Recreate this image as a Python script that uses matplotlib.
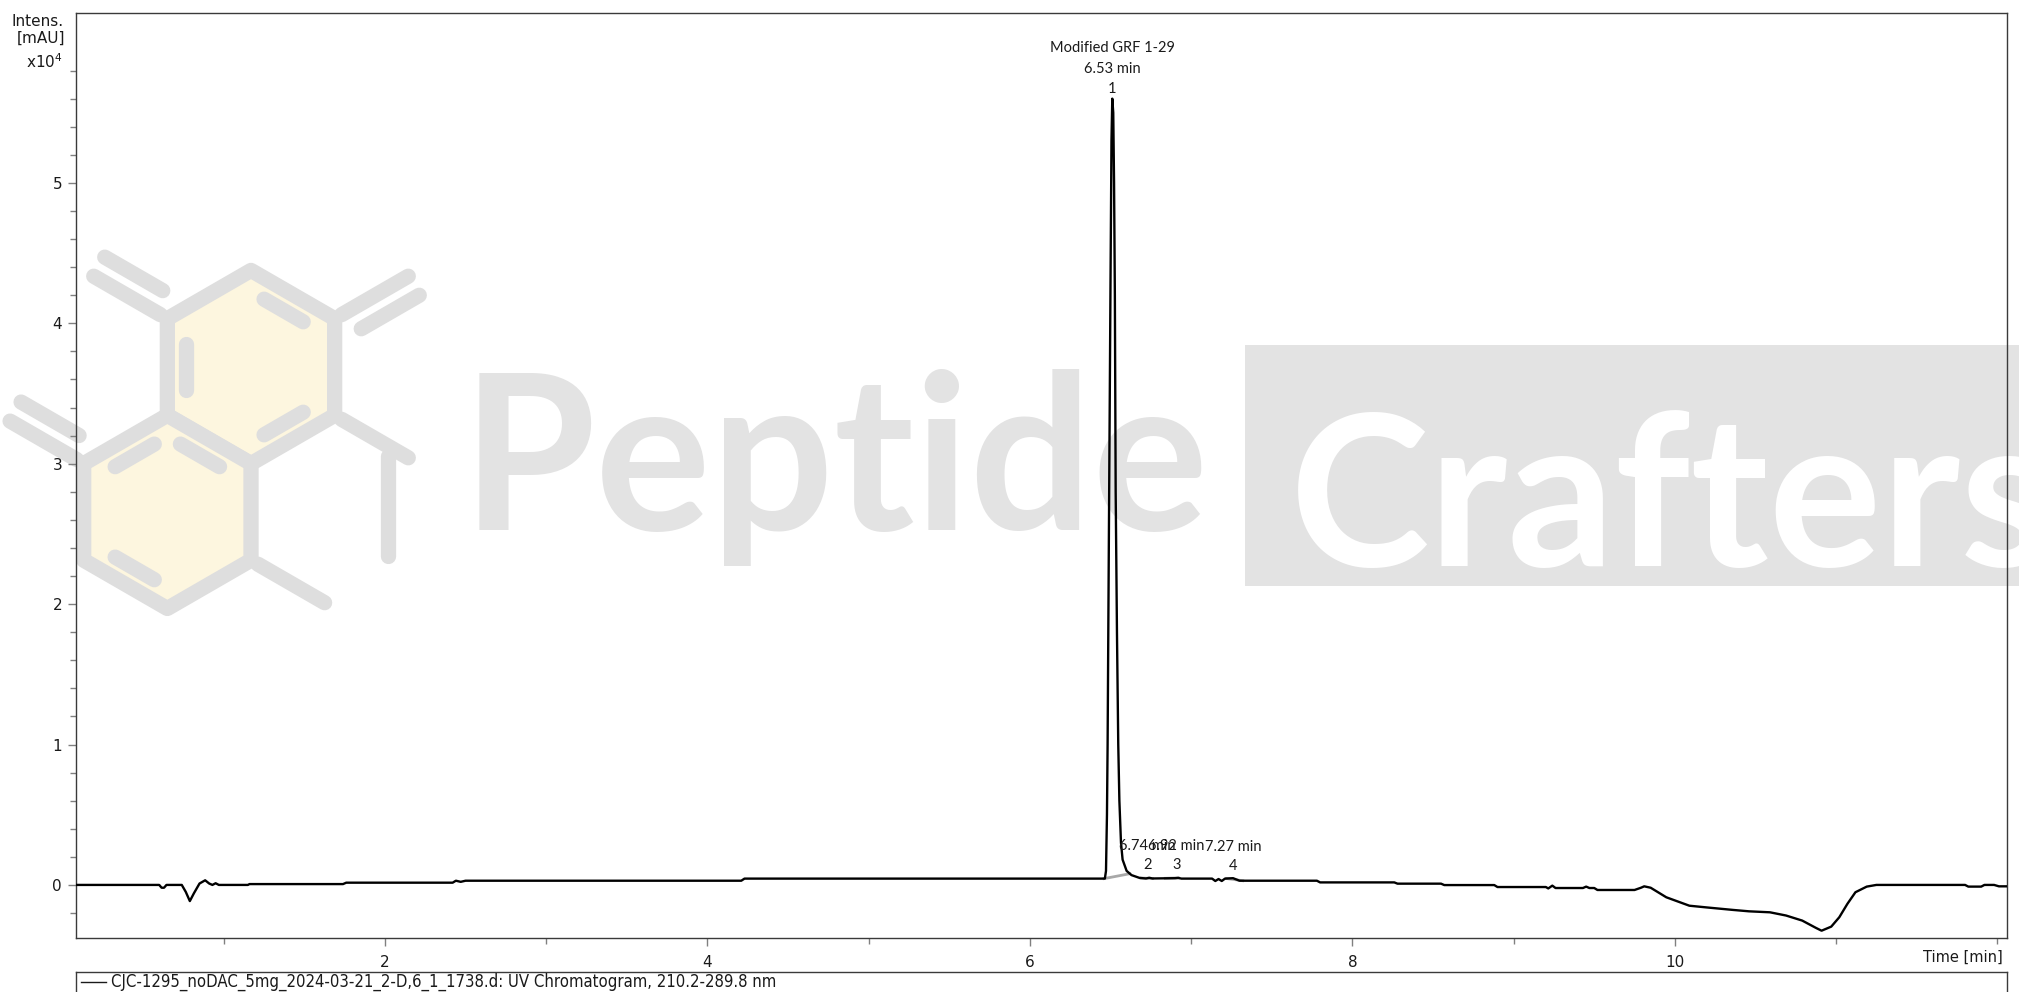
import numpy as np
import matplotlib
matplotlib.use("Agg")
import matplotlib.pyplot as plt
from matplotlib.lines import Line2D
from matplotlib.patches import Polygon, Rectangle

# ---------------- data ----------------
time_min = [0.084, 0.60, 0.615, 0.63, 0.645, 0.74, 0.765, 0.79, 0.815, 0.85, 0.885, 0.91, 0.93,
            0.95, 0.97, 1.15, 1.16, 1.74, 1.76, 2.42, 2.44, 2.47, 2.50, 4.21, 4.23, 4.25,
            6.465, 6.472, 6.478, 6.482, 6.49, 6.50, 6.506, 6.511, 6.517, 6.522, 6.527, 6.532,
            6.54, 6.548, 6.555, 6.565, 6.575, 6.60, 6.63, 6.68, 6.72, 6.74, 6.76, 6.90, 6.92,
            6.94, 7.13, 7.15, 7.17, 7.19, 7.21, 7.26, 7.30, 7.78, 7.80, 8.26, 8.28, 8.55, 8.57,
            8.88, 8.90, 9.20, 9.215, 9.24, 9.26, 9.28, 9.43, 9.45, 9.47, 9.50, 9.52, 9.75, 9.79,
            9.81, 9.85, 9.947, 10.09, 10.195, 10.36, 10.46, 10.59, 10.69, 10.79, 10.875, 10.91,
            10.97, 11.02, 11.07, 11.12, 11.19, 11.25, 11.80, 11.82, 11.90, 11.92, 11.98, 12.01,
            12.06]
intensity = [0.0, 0.0, -0.02, -0.02, 0.0, 0.0, -0.05, -0.115, -0.06, 0.01, 0.033, 0.01, 0.0,
             0.012, 0.0, 0.0, 0.006, 0.006, 0.016, 0.016, 0.03, 0.022, 0.03, 0.03, 0.045, 0.045,
             0.045, 0.10, 0.5, 1.0, 2.5, 4.3, 5.3, 5.6, 5.5, 5.0, 4.2, 2.8,
             1.8, 1.0, 0.6, 0.3, 0.18, 0.10, 0.07, 0.05, 0.046, 0.051, 0.046, 0.048, 0.05,
             0.045, 0.045, 0.028, 0.042, 0.028, 0.045, 0.048, 0.03, 0.03, 0.018, 0.018, 0.009, 0.009,
             -0.001, -0.001, -0.015, -0.015, -0.025, -0.005, -0.022, -0.022, -0.022, -0.012, -0.022, -0.022,
             -0.036, -0.036, -0.02, -0.01, -0.02, -0.088, -0.148, -0.16, -0.178, -0.188, -0.195, -0.218,
             -0.254, -0.306, -0.326, -0.297, -0.23, -0.135, -0.052, -0.012, 0.0, 0.0, -0.012, -0.012,
             0.0, 0.0, -0.01, -0.01]

peak_numbers = ["1", "2", "3", "4"]
peak_rt = [6.53, 6.74, 6.92, 7.27]
peak_names = ["Modified GRF 1-29", "", "", ""]
integ_start = [6.46, 6.69, 6.84, 7.22]
integ_end = [6.62, 6.76, 6.92, 7.32]

x_ticks = [2, 4, 6, 8, 10]
y_ticks = [0, 1, 2, 3, 4, 5]
legend_label = "CJC-1295_noDAC_5mg_2024-03-21_2-D,6_1_1738.d: UV Chromatogram, 210.2-289.8 nm"

# ---------------- figure ----------------
W, H = 2019, 992
fig = plt.figure(figsize=(W / 100, H / 100), dpi=100)
fig.patch.set_facecolor("white")

# watermark overlay (figure pixel coordinates)
wm = fig.add_axes([0, 0, 1, 1], zorder=-5)
wm.set_xlim(0, W)
wm.set_ylim(H, 0)
wm.axis("off")
gray_wm = "#dedede"
yellow_wm = "#fdf6df"

R = 96.6
c1 = np.array([251.0, 367.0])
c2 = c1 + np.array([-0.866 * R, 1.5 * R])
ang = np.deg2rad([-90, -30, 30, 90, 150, 210])
def hexv(c):
    return np.column_stack([c[0] + R * np.cos(ang), c[1] + R * np.sin(ang)])
for c in (c1, c2):
    v = hexv(c)
    wm.add_patch(Polygon(v, closed=True, facecolor=yellow_wm, edgecolor=gray_wm, lw=11,
                         joinstyle="round"))

def seg(p, q, lw=11):
    wm.add_line(Line2D([p[0], q[0]], [p[1], q[1]], color=gray_wm, lw=lw,
                       solid_capstyle="round"))

def inner(c, i, j, f=0.78, shrink=0.2):
    v = hexv(c)
    a = c + f * (v[i] - c)
    b = c + f * (v[j] - c)
    d = b - a
    seg(a + shrink * d, b - shrink * d)

v1 = hexv(c1)
v2 = hexv(c2)
inner(c1, 0, 1)
inner(c1, 2, 3)
inner(c1, 4, 5)
inner(c2, 0, 1)
inner(c2, 3, 4)
inner(c2, 5, 0)

def spoke(v, direction, length, double=False):
    d = np.array(direction) / np.linalg.norm(direction)
    p = v + d * 8
    q = v + d * length
    seg(p, q)
    if double:
        n = np.array([-d[1], d[0]])
        seg(p + n * 22 + d * 10, q + n * 22)

spoke(v1[5], [-0.866, -0.5], 85, double=True)
spoke(v1[1], [0.866, -0.5], 85, double=True)
spoke(v1[2], [0.866, 0.5], 85)
seg(v1[2] + np.array([0.866, 0.5]) * 62 + np.array([0, 10]),
    v1[2] + np.array([0.866, 0.5]) * 62 + np.array([0, 110]))
spoke(v2[5], [-0.866, -0.5], 85, double=True)
spoke(v2[2], [0.866, 0.5], 85)

wm.add_patch(Rectangle((1245, 345), 800, 241, facecolor="#e3e3e3", edgecolor="none"))
wm.text(462, 530, "Peptide", fontsize=156, family="Lato", weight="bold", color="#e3e3e3",
        ha="left", va="baseline")
wm.text(1290, 566, "Crafters", fontsize=152, family="Lato", weight="bold", color="white",
        ha="left", va="baseline")

# main axes
left, right, top, bottom = 76, 2007, 13, 938
ax = fig.add_axes([left / W, 1 - bottom / H, (right - left) / W, (bottom - top) / H], zorder=1)
ax.patch.set_alpha(0)

t = np.array(time_min)
y = np.array(intensity)
ax.plot(t, y, color="black", lw=1.7, zorder=3, solid_joinstyle="round")

for s, e in zip(integ_start, integ_end):
    base = np.interp([s, e], t, y)
    ax.plot([s, e], base, color="#a8a8a8", lw=2.0, zorder=2)

label_font = dict(family="Lato", fontsize=10.5, color="#1a1a1a", ha="center", va="center")
for num, rt, name in zip(peak_numbers, peak_rt, peak_names):
    if name:
        i = int(np.argmax(y))
        px, py = t[i], y[i]
        off = [10, 30, 51]
    else:
        px, py = rt - 0.01, float(np.interp(rt, t, y))
        off = [13, 32, 53]
    ax.annotate(num, (px, py), xytext=(0, off[0]), textcoords="offset pixels", **label_font)
    ax.annotate(f"{rt:.2f} min", (px, py), xytext=(0, off[1]), textcoords="offset pixels",
                **label_font)
    if name:
        ax.annotate(name, (px, py), xytext=(0, off[2]), textcoords="offset pixels", **label_font)

ax.set_xlim(0.084, 12.06)
ax.set_ylim(-0.378, 6.21)
ax.set_xticks(x_ticks)
ax.set_xticks([1, 3, 5, 7, 9, 11, 12], minor=True)
ax.set_yticks(y_ticks)
ax.set_yticks([v / 5 for v in range(-1, 31) if v % 5 != 0], minor=True)
for sp in ax.spines.values():
    sp.set_color("#3a3a3a")
    sp.set_linewidth(1.0)
ax.tick_params(axis="both", which="major", direction="out", length=6, width=1, color="#808080",
               labelsize=11, labelcolor="#1a1a1a")
ax.tick_params(axis="both", which="minor", direction="out", length=4, width=1, color="#808080")
ax.tick_params(axis="x", which="major", pad=6)
ax.tick_params(axis="y", which="major", pad=4)

fig.text(64 / W, 1 - 21 / H, "Intens.", ha="right", va="center", fontsize=11, color="#1a1a1a")
fig.text(65 / W, 1 - 38 / H, "[mAU]", ha="right", va="center", fontsize=11, color="#1a1a1a")
fig.text(63 / W, 1 - 62 / H, r"x10$^{4}$", ha="right", va="center", fontsize=11, color="#1a1a1a")
fig.text(2003 / W, 1 - 957 / H, "Time [min]", ha="right", va="center", fontsize=10.5,
         color="#1a1a1a")

# legend box below the axes
lg = fig.add_axes([left / W, 0, (right - left) / W, (H - 972) / H], zorder=2)
lg.set_xlim(0, right - left)
lg.set_ylim(H - 972, 0)
lg.set_xticks([])
lg.set_yticks([])
for k, sp in lg.spines.items():
    sp.set_color("#3a3a3a")
    sp.set_linewidth(1.0)
lg.spines["bottom"].set_visible(False)
lg.plot([5, 30], [10, 10], color="#1a1a1a", lw=1.0)
leg_txt = lg.text(35, 10, legend_label, ha="left", va="center", fontsize=12.5,
                  family="DejaVu Sans", fontstretch="condensed", color="#1a1a1a")

# fit the legend text width to the reference (~663 px)
fig.canvas.draw()
w_now = leg_txt.get_window_extent(fig.canvas.get_renderer()).width
leg_txt.set_fontsize(12.5 * 663.0 / w_now)

fig.savefig("out.png", dpi=100)
